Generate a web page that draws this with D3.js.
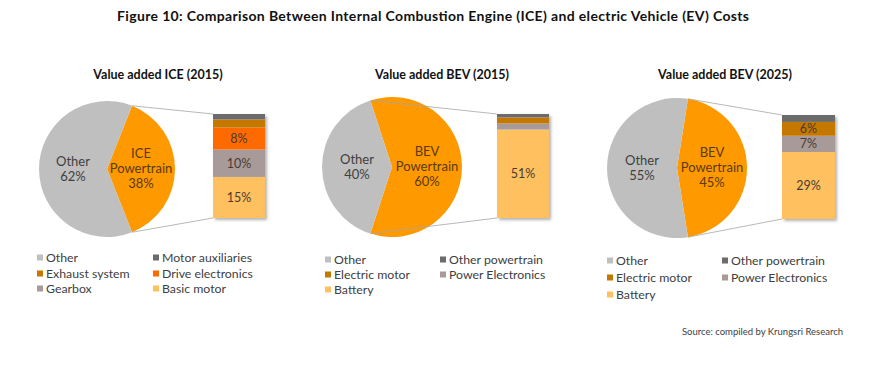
<!DOCTYPE html>
<html>
<head>
<meta charset="utf-8">
<script src="https://cdn.jsdelivr.net/npm/d3@7"></script>
<style>
  body { margin: 0; background: #fff; }
  text { font-family: Lato, "Open Sans", sans-serif; }
</style>
</head>
<body>
<div id="app"></div>
<script>
const W = 870, H = 370;

// data
const mainTitle = "Figure 10: Comparison Between Internal Combustion Engine (ICE) and electric Vehicle (EV) Costs";
const panelTitles = ["Value added ICE (2015)", "Value added BEV (2015)", "Value added BEV (2025)"];
const powertrainNames = ["ICE Powertrain", "BEV Powertrain", "BEV Powertrain"];
const otherShare = [62, 40, 55];
const powertrainShare = [38, 60, 45];

const iceParts = ["Basic motor", "Gearbox", "Drive electronics", "Exhaust system", "Motor auxiliaries"];
const iceValues = [15, 10, 8, 3, 2];
const bevParts = ["Battery", "Power Electronics", "Electric motor", "Other powertrain"];
const bev2015Values = [51, 3.5, 3.5, 2];
const bev2025Values = [29, 7, 6, 3];

const iceLegend = ["Other", "Motor auxiliaries", "Exhaust system", "Drive electronics", "Gearbox", "Basic motor"];
const bevLegend = ["Other", "Other powertrain", "Electric motor", "Power Electronics", "Battery"];

const colors = {
  "Other": "#bfbfbf",
  "Powertrain": "#ff9900",
  "Motor auxiliaries": "#6b6b6b",
  "Other powertrain": "#6b6b6b",
  "Exhaust system": "#c57800",
  "Electric motor": "#c57800",
  "Drive electronics": "#ff6a00",
  "Gearbox": "#a89a98",
  "Power Electronics": "#a89a98",
  "Basic motor": "#ffc060",
  "Battery": "#ffc060"
};

// layout per panel
const panels = [
  { cx: 107, cy: 169, r: 68, bx: 213, bw: 52, top: 114, bottom: 218, tx: 158,
    parts: iceParts, values: iceValues, legend: iceLegend,
    lx: [37, 153], ly: [258, 274, 289] },
  { cx: 392, cy: 167, r: 70, bx: 497, bw: 52, top: 114, bottom: 218, tx: 442,
    parts: bevParts, values: bev2015Values, legend: bevLegend,
    lx: [325, 440], ly: [260, 275, 290] },
  { cx: 677, cy: 168, r: 70, bx: 782, bw: 53, top: 115, bottom: 219, tx: 725,
    parts: bevParts, values: bev2025Values, legend: bevLegend,
    lx: [607, 722], ly: [261, 278, 295] }
];

const svg = d3.select("#app").append("svg")
    .attr("width", W)
    .attr("height", H);

const defs = svg.append("defs");
defs.append("filter").attr("id", "shadow")
    .attr("x", "-20%").attr("y", "-20%").attr("width", "150%").attr("height", "150%")
  .append("feDropShadow")
    .attr("dx", 2).attr("dy", 2).attr("stdDeviation", 1.5)
    .attr("flood-color", "#000").attr("flood-opacity", 0.3);

svg.append("text")
    .attr("x", 433).attr("y", 21)
    .attr("text-anchor", "middle")
    .attr("font-size", 14).attr("font-weight", "bold")
    .attr("fill", "#111")
    .attr("textLength", 632)
    .attr("lengthAdjust", "spacing")
    .text(mainTitle);

panels.forEach((p, i) => {
  const g = svg.append("g");

  g.append("text")
      .attr("x", p.tx).attr("y", 79)
      .attr("text-anchor", "middle")
      .attr("font-size", 12.5).attr("font-weight", "bold")
      .attr("fill", "#111")
      .text(panelTitles[i]);

  // pie: powertrain slice centred on the right side
  const frac = powertrainShare[i] / (powertrainShare[i] + otherShare[i]);
  const start = Math.PI / 2 - frac * Math.PI;
  const pieData = [
    { name: "Powertrain", label: powertrainNames[i], value: powertrainShare[i] },
    { name: "Other", label: "Other", value: otherShare[i] }
  ];
  const pie = d3.pie().sort(null).value(d => d.value)
      .startAngle(start).endAngle(start + 2 * Math.PI);
  const arc = d3.arc().innerRadius(0).outerRadius(p.r);
  const arcs = pie(pieData);

  const pg = g.append("g").attr("transform", `translate(${p.cx},${p.cy})`);
  pg.selectAll("path")
    .data(arcs)
    .join("path")
    .attr("d", arc)
    .attr("fill", d => colors[d.data.name]);

  arcs.forEach(a => {
    const [x, y] = arc.centroid(a);
    const words = a.data.label.split(" ");
    const lines = words.concat([a.data.value + "%"]);
    const t = pg.append("text")
        .attr("text-anchor", "middle")
        .attr("font-size", 13)
        .attr("fill", a.data.name === "Other" ? "#404040" : "#5a3a10");
    lines.forEach((ln, k) => {
      t.append("tspan")
          .attr("x", x)
          .attr("y", y + 4 + (k - (lines.length - 1) / 2) * 15)
          .text(ln);
    });
  });

  // connector lines from the powertrain slice edges to the bar
  const pt = arcs[0];
  const topPt = [p.cx + p.r * Math.sin(pt.startAngle), p.cy - p.r * Math.cos(pt.startAngle)];
  const botPt = [p.cx + p.r * Math.sin(pt.endAngle), p.cy - p.r * Math.cos(pt.endAngle)];
  g.append("line")
      .attr("x1", topPt[0]).attr("y1", topPt[1])
      .attr("x2", p.bx).attr("y2", p.top)
      .attr("stroke", "#a6a6a6").attr("stroke-width", 0.8);
  g.append("line")
      .attr("x1", botPt[0]).attr("y1", botPt[1])
      .attr("x2", p.bx).attr("y2", p.bottom)
      .attr("stroke", "#a6a6a6").attr("stroke-width", 0.8);

  // stacked bar breaking down the powertrain
  const y = d3.scaleLinear()
      .domain([0, d3.sum(p.values)])
      .range([p.bottom, p.top]);
  const stacked = [];
  let acc = 0;
  p.values.forEach((v, k) => {
    stacked.push({ name: p.parts[k], value: v, y0: acc, y1: acc + v });
    acc += v;
  });

  const bar = g.append("g");
  bar.append("rect")
      .attr("x", p.bx).attr("y", p.top)
      .attr("width", p.bw).attr("height", p.bottom - p.top)
      .attr("fill", "#fff")
      .attr("filter", "url(#shadow)");
  bar.selectAll("rect.seg")
    .data(stacked)
    .join("rect")
    .classed("seg", true)
    .attr("x", p.bx)
    .attr("y", d => y(d.y1))
    .attr("width", p.bw)
    .attr("height", d => y(d.y0) - y(d.y1))
    .attr("fill", d => colors[d.name]);
  bar.selectAll("text")
    .data(stacked.filter(d => d.value >= 6))
    .join("text")
    .attr("x", p.bx + p.bw / 2)
    .attr("y", d => (y(d.y0) + y(d.y1)) / 2 + 4.5)
    .attr("text-anchor", "middle")
    .attr("font-size", 12.5)
    .attr("fill", "#4a3a30")
    .text(d => d.value + "%");

  // legend, two columns, row-major
  const lg = g.append("g");
  p.legend.forEach((name, k) => {
    const col = k % 2, row = Math.floor(k / 2);
    const lx = p.lx[col], ly = p.ly[row];
    lg.append("rect")
        .attr("x", lx).attr("y", ly - 3.5)
        .attr("width", 6).attr("height", 6)
        .attr("fill", colors[name]);
    lg.append("text")
        .attr("x", lx + 9).attr("y", ly + 4)
        .attr("font-size", 12.3)
        .attr("fill", "#404040")
        .text(name);
  });
});

svg.append("text")
    .attr("x", 843).attr("y", 335)
    .attr("text-anchor", "end")
    .attr("font-size", 9.5)
    .attr("fill", "#404040")
    .text("Source: compiled by Krungsri Research");
</script>
</body>
</html>
